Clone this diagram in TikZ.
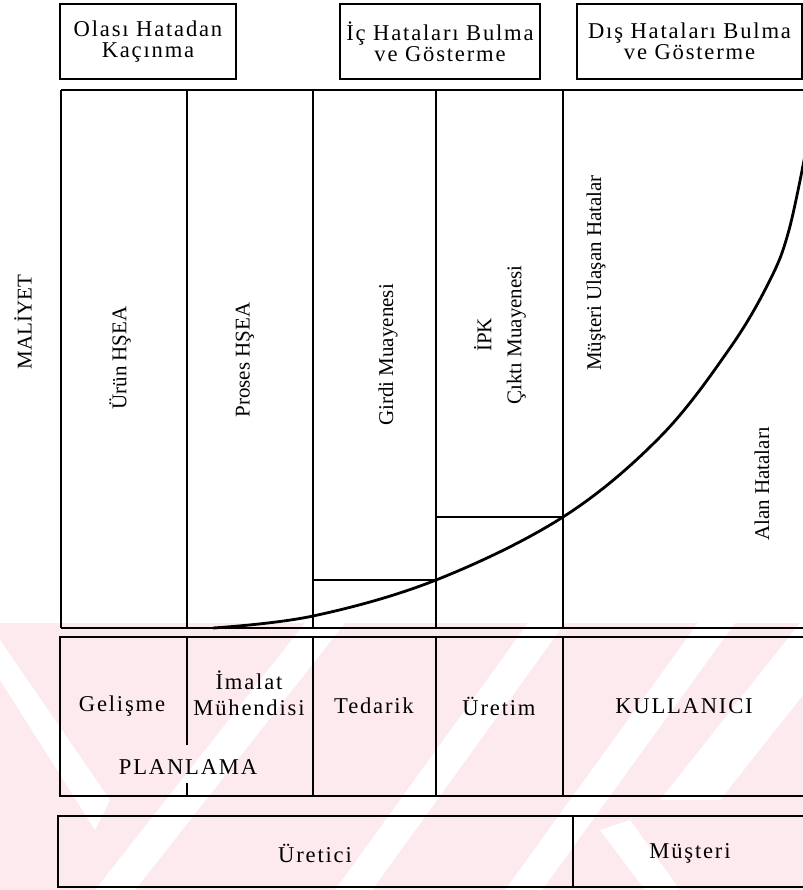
\documentclass[tikz,border=0pt]{standalone}
\usepackage{fontspec}
\setmainfont{Liberation Serif}
\newfontfamily\spacedfont[LetterSpace=8]{Liberation Serif}
\usepackage{tikz}
\usetikzlibrary{positioning}
\definecolor{wmpink}{RGB}{253,234,238}

\begin{document}
\begin{tikzpicture}[
  x=0.5pt,
  y=-0.5pt,
  line width=0.9pt,
  hdrbox/.style={
    draw,
    rectangle,
    align=center,
    inner sep=0pt,
    minimum height=37.5pt,
    font=\fontsize{11.3}{10.5}\selectfont\spacedfont
    },
  collabel/.style={
    rotate=90,
    align=center,
    inner sep=0pt,
    font=\fontsize{10.5}{15}\selectfont
    },
  bandtext/.style={
    align=center,
    inner sep=0pt,
    font=\fontsize{11.3}{13}\selectfont\spacedfont
    },
  wmstripe/.style={fill=white, draw=none},
  costcurve/.style={line width=1.4pt}
]
\useasboundingbox (0,0) rectangle (803,890);

% watermark
\fill[wmpink] (0,623) rectangle (803,890);
\begin{scope}
\clip (0,623) rectangle (803,890);
\fill[wmstripe] (95,890) -- (135,890) -- (345,623) -- (305,623) -- cycle;
\fill[wmstripe] (335,890) -- (372,890) -- (565,623) -- (528,623) -- cycle;
\fill[wmstripe] (505,890) -- (542,890) -- (735,623) -- (698,623) -- cycle;
\fill[wmstripe] (660,800) -- (720,800) -- (860,623) -- (800,623) -- cycle;
\fill[wmstripe] (0,640) -- (0,680) -- (95,830) -- (110,800) -- cycle;
\fill[wmstripe] (600,830) -- (630,820) -- (680,890) -- (645,890) -- cycle;
\end{scope}

\node[hdrbox, minimum width=88pt] (avoid) at (148,41.5) {Olası Hatadan\\Kaçınma};
\node[hdrbox, minimum width=100pt] (inner) at (440,41.5) {İç Hataları Bulma\\ve Gösterme};
\node[hdrbox, minimum width=112.5pt] (outer) at (689.5,41.5) {Dış Hataları Bulma\\ve Gösterme};

\foreach \cx in {61,187,313,436,563}
  \draw (\cx,90) -- (\cx,628);
\draw (61,90) -- (803,90);
\draw (61,628) -- (803,628);

\coordinate (girdi) at (436,580);
\coordinate (cikti) at (563,517);
\draw[costcurve] plot[smooth, tension=0.6] coordinates {(213,628) (313,616) (girdi) (cikti) (660,437) (730,348) (770,280) (789,230) (806,150)};
\draw (313,580) -- (girdi);
\draw (436,517) -- (cikti);

\node[collabel] (cost) at (23,322) {MALİYET};
\node[collabel] (urun) at (120,358) {Ürün HŞEA};
\node[collabel] (proses) at (245,360) {Proses HŞEA};
\node[collabel] (girdim) at (388,355) {Girdi Muayenesi};
\node[collabel] (ciktim) at (500,335) {İPK\\Çıktı Muayenesi};
\node[collabel] (ulasan) at (596,273) {Müşteri Ulaşan Hatalar};
\node[collabel] (alan) at (762,484) {Alan Hataları};

\draw (803,637) -- (60,637) -- (60,796) -- (803,796);
\draw (187,637) -- (187,745);
\draw (187,783) -- (187,796);
\foreach \cx in {313,436,563}
  \draw (\cx,637) -- (\cx,796);

\node[bandtext] (gelisme) at (122,706) {Gelişme};
\node[bandtext] (imalat) at (249,693) {İmalat\\Mühendisi};
\node[bandtext] (tedarik) at (374,706) {Tedarik};
\node[bandtext] (uretim) at (499,706) {Üretim};
\node[bandtext] (kullanici) at (684,706) {KULLANICI};
\node[bandtext] (planlama) at (188,767) {PLANLAMA};

\draw (803,816) -- (58,816) -- (58,887) -- (803,887);
\draw (573,816) -- (573,887);
\node[bandtext] (uretici) at (315,853) {Üretici};
\node[bandtext] (musteri) at (690,853) {Müşteri};

\end{tikzpicture}
\end{document}
